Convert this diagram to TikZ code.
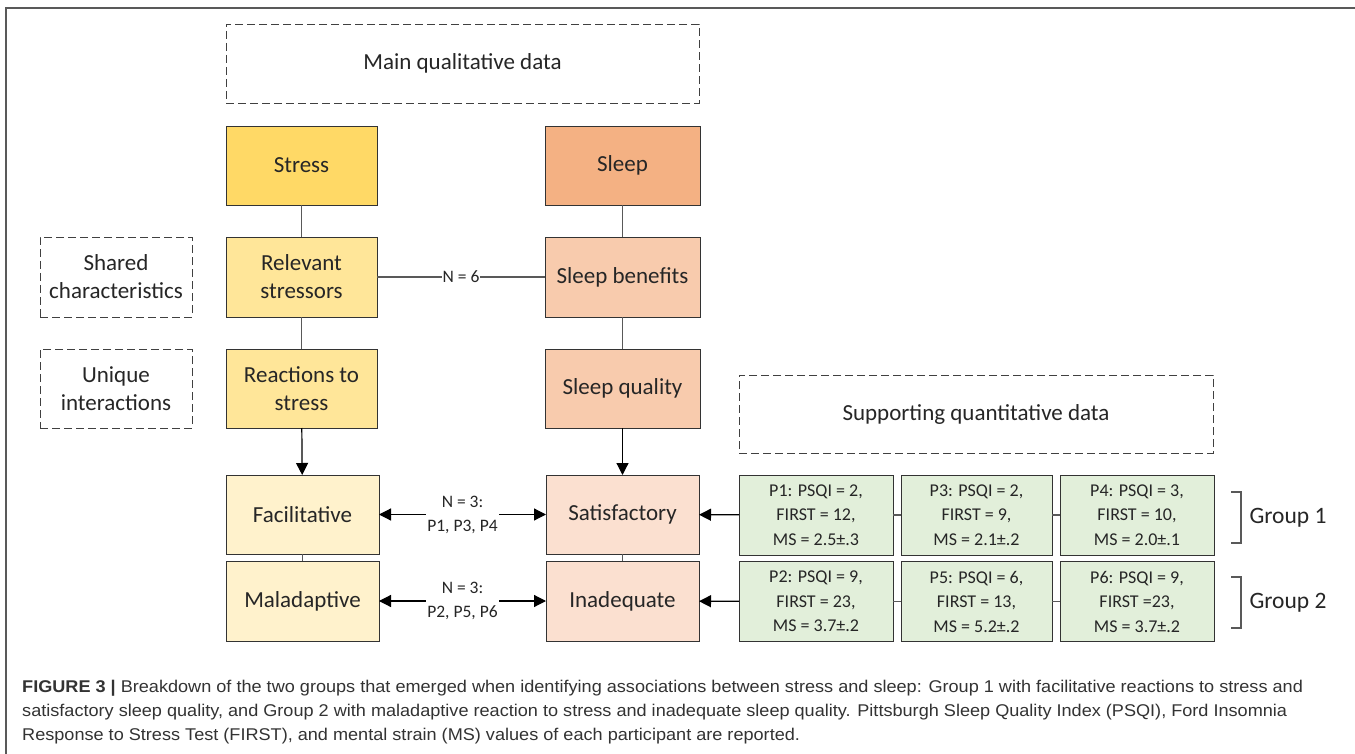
\documentclass[tikz,border=0pt]{standalone}
\usepackage{fontspec}
\setmainfont{Carlito}
\newfontfamily\capfont[FakeStretch=1.065]{Liberation Sans}
\usetikzlibrary{arrows.meta}
\definecolor{cStress}{HTML}{FFD966}
\definecolor{cStressB}{HTML}{FFE699}
\definecolor{cStressC}{HTML}{FFF2CC}
\definecolor{cSleep}{HTML}{F4B183}
\definecolor{cSleepB}{HTML}{F8CBAD}
\definecolor{cSleepC}{HTML}{FBE0D0}
\definecolor{cGreen}{HTML}{E2EFDA}
\definecolor{cText}{HTML}{262626}
\definecolor{cLine}{HTML}{595959}
\definecolor{cCap}{HTML}{333333}
\begin{document}
\begin{tikzpicture}[x=1pt,y=-1pt,
  box/.style={draw=black!80, line width=0.8pt, align=center, text=cText,
    inner sep=0pt, outer sep=0pt, font=\fontsize{23}{28}\selectfont},
  dbox/.style={draw=black!75, dash pattern=on 8pt off 4pt, line width=0.8pt,
    align=center, text=cText, inner sep=0pt, outer sep=0pt, font=\fontsize{23}{28}\selectfont},
  gbox/.style={draw=black!80, line width=0.8pt, fill=cGreen, align=center, text=cText,
    inner sep=0pt, outer sep=0pt, minimum height=80pt, font=\fontsize{18}{24.5}\selectfont},
  link/.style={draw=cLine, line width=1.1pt},
  arr/.style={draw=black, line width=1.2pt, -{Triangle[width=12pt,length=12pt]}},
  darr/.style={draw=black, line width=1.2pt, {Triangle[width=12pt,length=12pt]}-{Triangle[width=12pt,length=12pt]}},
  lbl/.style={fill=white, inner sep=1pt, align=center, text=cText, font=\fontsize{17.5}{24}\selectfont},
  grp/.style={text=cText, font=\fontsize{23.5}{28}\selectfont},
  captxt/.style={anchor=base west, inner sep=0pt, text=cCap, font=\capfont\fontsize{17}{20}\selectfont}
]
\useasboundingbox (0,0) rectangle (1355,754);
\fill[white] (0,0) rectangle (1355,754);
% frame
\draw[cLine, line width=1.6pt] (6,754) -- (6,8) -- (1355,8);

% dashed titles
\node[dbox, minimum width=473pt, minimum height=79pt] (main) at (462.5,63.5) {Main qualitative data};
\node[dbox, minimum width=152pt, minimum height=80pt] (shared) at (116,277) {Shared\\characteristics};
\node[dbox, minimum width=152pt, minimum height=79pt] (unique) at (116,388.5) {Unique\\interactions};
\node[dbox, minimum width=474pt, minimum height=78pt] (supp) at (976,414) {Supporting quantitative data};

% stress column
\node[box, fill=cStress, minimum width=151pt, minimum height=79pt] (stress) at (301.5,165.5) {Stress};
\node[box, fill=cStressB, minimum width=151pt, minimum height=80pt] (relev) at (301.5,277) {Relevant\\stressors};
\node[box, fill=cStressB, minimum width=151pt, minimum height=79pt] (react) at (301.5,388.5) {Reactions to\\stress};
\node[box, fill=cStressC, minimum width=153pt, minimum height=79pt] (fac) at (302.5,514.5) {Facilitative};
\node[box, fill=cStressC, minimum width=153pt, minimum height=80pt] (mal) at (302.5,601) {Maladaptive};

% sleep column
\node[box, fill=cSleep, minimum width=155pt, minimum height=79pt] (sleep) at (622.5,165.5) {Sleep};
\node[box, fill=cSleepB, minimum width=155pt, minimum height=80pt] (benef) at (622.5,277) {Sleep benefits};
\node[box, fill=cSleepB, minimum width=155pt, minimum height=79pt] (qual) at (622.5,388.5) {Sleep quality};
\node[box, fill=cSleepC, minimum width=153pt, minimum height=79pt] (sat) at (622.5,514.5) {Satisfactory};
\node[box, fill=cSleepC, minimum width=153pt, minimum height=80pt] (inad) at (622.5,601) {Inadequate};

% green boxes
\node[gbox, minimum width=154pt] (g1) at (816,515) {P1: PSQI = 2,\\FIRST = 12,\\MS = 2.5±.3};
\node[gbox, minimum width=151pt] (g3) at (976.5,515) {P3: PSQI = 2,\\FIRST = 9,\\MS = 2.1±.2};
\node[gbox, minimum width=154pt] (g4) at (1137,515) {P4: PSQI = 3,\\FIRST = 10,\\MS = 2.0±.1};
\node[gbox, minimum width=154pt] (g2) at (816,601.5) {P2: PSQI = 9,\\FIRST = 23,\\MS = 3.7±.2};
\node[gbox, minimum width=151pt] (g5) at (976.5,601.5) {P5: PSQI = 6,\\FIRST = 13,\\MS = 5.2±.2};
\node[gbox, minimum width=154pt] (g6) at (1137,601.5) {P6: PSQI = 9,\\FIRST =23,\\MS = 3.7±.2};

% vertical connectors
\draw[link] (stress) -- (relev);
\draw[link] (relev) -- (react);
\draw[arr] (react) -- (fac);
\draw[link] (fac) -- (mal);
\draw[link] (sleep) -- (benef);
\draw[link] (benef) -- (qual);
\draw[arr] (qual) -- (sat);
\draw[link] (sat) -- (inad);

% horizontal connectors
\draw[link] (relev) -- node[lbl] {N = 6} (benef);
\draw[darr] (fac) -- node[lbl] {N = 3:\\P1, P3, P4} (sat);
\draw[darr] (mal) -- node[lbl] {N = 3:\\P2, P5, P6} (inad);
\draw[arr] (g1) -- (sat);
\draw[arr] (g2) -- (inad);
\draw[link] (g1) -- (g3);
\draw[link] (g3) -- (g4);
\draw[link] (g2) -- (g5);
\draw[link] (g5) -- (g6);

% group brackets
\coordinate (b1a) at (1231,492);
\coordinate (b1b) at (1241,492);
\coordinate (b1c) at (1241,543);
\coordinate (b1d) at (1231,543);
\draw[cLine, line width=1.1pt] (b1a) -- (b1b) -- (b1c) -- (b1d);
\coordinate (b2a) at (1231,577);
\coordinate (b2b) at (1241,577);
\coordinate (b2c) at (1241,628);
\coordinate (b2d) at (1231,628);
\draw[cLine, line width=1.1pt] (b2a) -- (b2b) -- (b2c) -- (b2d);
\node[grp] (grp1) at (1288,518) {Group 1};
\node[grp] (grp2) at (1288,603) {Group 2};

% caption
\node[captxt] (cap1) at (22,692) {\textbf{FIGURE 3 |} Breakdown of the two groups that emerged when identifying associations between stress and sleep: Group 1 with facilitative reactions to stress and};
\node[captxt] (cap2) at (22,716) {satisfactory sleep quality, and Group 2 with maladaptive reaction to stress and inadequate sleep quality. Pittsburgh Sleep Quality Index (PSQI), Ford Insomnia};
\node[captxt] (cap3) at (22,740) {Response to Stress Test (FIRST), and mental strain (MS) values of each participant are reported.};
\end{tikzpicture}
\end{document}
